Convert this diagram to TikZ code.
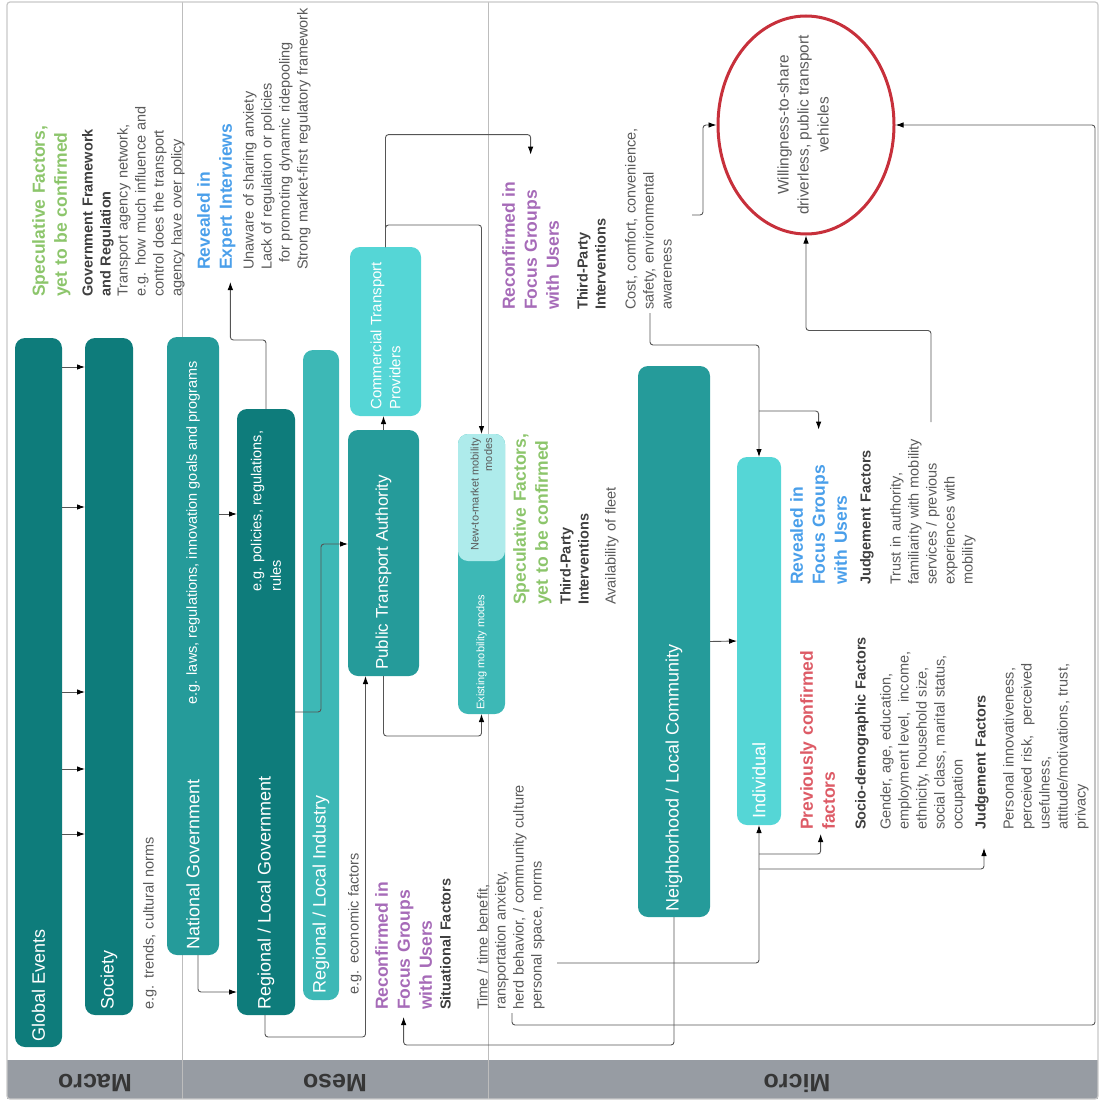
\documentclass[tikz,border=0pt]{standalone}
\usepackage{fontspec}
\setmainfont{Liberation Sans}
\usetikzlibrary{arrows.meta,shapes.geometric}
\definecolor{tdark}{HTML}{0E7C7B}
\definecolor{tmid}{HTML}{259B9A}
\definecolor{tlight}{HTML}{3DB8B6}
\definecolor{tcyan}{HTML}{55D6D6}
\definecolor{tpale}{HTML}{AEEBEB}
\definecolor{specgreen}{HTML}{8CC56B}
\definecolor{revblue}{HTML}{4A9FEA}
\definecolor{reconfpurple}{HTML}{A66BB8}
\definecolor{prevred}{HTML}{DD5B66}
\definecolor{goalred}{HTML}{C7303B}
\definecolor{subgray}{HTML}{404040}
\definecolor{bodygray}{HTML}{5A5A5A}
\definecolor{linegray}{HTML}{555555}
\definecolor{bandgray}{HTML}{979CA3}
\definecolor{bandtext}{HTML}{363636}
\definecolor{sepgray}{HTML}{BDBDBD}
\definecolor{framegray}{HTML}{C8C8C8}

\begin{document}
\begin{tikzpicture}[x=1pt,y=-1pt,
  box/.style={rounded corners=10pt,inner sep=0pt,outer sep=0pt},
  boxlabel/.style={rotate=90,anchor=west,inner sep=0pt,text=white,align=left,font=\fontsize{18}{21}\selectfont},
  txt/.style={rotate=90,anchor=north west,inner sep=0pt,align=left,text width=#1},
  txt/.default=300pt,
  head/.style={txt=#1,font=\bfseries\fontsize{17.5}{22}\selectfont},
  head/.default=300pt,
  sub/.style={txt,text=subgray,font=\bfseries\fontsize{14.5}{18}\selectfont},
  body/.style={txt,text=bodygray,font=\fontsize{14.5}{18}\selectfont},
  goal/.style={ellipse,draw=goalred,line width=3pt,minimum width=176pt,minimum height=218pt,inner sep=0pt},
  goallabel/.style={rotate=90,inner sep=0pt,align=center,text=bodygray,font=\fontsize{15.4}{20}\selectfont},
  bandlabel/.style={rotate=180,text=bandtext,font=\bfseries\fontsize{25}{30}\selectfont},
  conn/.style={draw=linegray,line width=0.9pt,rounded corners=3pt,-{Latex[length=8pt,width=5.5pt,color=black]}}]

  \useasboundingbox (0,0) rectangle (1100,1102);
  \fill[bandgray] (7,1060) rectangle (1098,1099);
  \draw[sepgray,line width=1pt] (182,2) -- (182,1099) (488,2) -- (488,1099);
  \draw[framegray,line width=1.2pt,rounded corners=3pt] (7,2) rectangle (1098,1099);
  \node[bandlabel] (macro) at (95,1083) {Macro};
  \node[bandlabel] (meso) at (335,1083) {Meso};
  \node[bandlabel] (micro) at (797,1083) {Micro};

  \node[box,fill=tdark,minimum width=47pt,minimum height=709pt] (global) at (38.5,692.5) {};
  \node[box,fill=tdark,minimum width=48pt,minimum height=677pt] (society) at (109,676.5) {};
  \node[box,fill=tmid,minimum width=52pt,minimum height=618pt] (natgov) at (193,646) {};
  \node[box,fill=tdark,minimum width=58pt,minimum height=606pt] (reggov) at (266,712) {};
  \node[box,fill=tlight,minimum width=36pt,minimum height=650pt] (regind) at (321,675) {};
  \node[box,fill=tmid,minimum width=71pt,minimum height=246pt] (pta) at (383.5,553) {};
  \node[box,fill=tcyan,minimum width=71pt,minimum height=169pt] (ctp) at (385.5,331.5) {};
  \node[box,fill=tlight,minimum width=47pt,minimum height=280pt] (modes) at (481.5,574) {};
  \node[box,fill=tpale,minimum width=47pt,minimum height=127pt] (newmodes) at (481.5,497.5) {};
  \node[box,fill=tmid,minimum width=72pt,minimum height=551pt] (neigh) at (674,641.5) {};
  \node[box,fill=tcyan,minimum width=44pt,minimum height=368pt] (indiv) at (759,641) {};
  \node[goal] (wts) at (806,125) {};
  \node[goallabel] (wtslbl) at ([xshift=-3pt]wts.center) {Willingness-to-share\\driverless, public transport\\vehicles};

  \node[boxlabel] (globallbl) at ([yshift=5pt]global.south) {Global Events};
  \node[boxlabel] (societylbl) at ([yshift=5pt]society.south) {Society};
  \node[boxlabel] (natgovlbl) at ([yshift=5pt]natgov.south) {National Government};
  \node[boxlabel,font=\fontsize{14.5}{17}\selectfont] (natgovex) at (natgov.center |- 0,705) {e.g. laws, regulations, innovation goals and programs};
  \node[boxlabel] (reggovlbl) at ([yshift=5pt]reggov.south) {Regional / Local Government};
  \node[boxlabel,font=\fontsize{14.5}{19.5}\selectfont] (reggovex) at (reggov.center |- 0,592) {e.g. policies, regulations,\\rules};
  \node[boxlabel] (regindlbl) at ([yshift=6pt]regind.south) {Regional / Local Industry};
  \node[boxlabel,font=\fontsize{17}{20}\selectfont] (ptalbl) at ([yshift=6pt]pta.south) {Public Transport Authority};
  \node[boxlabel,font=\fontsize{15}{19}\selectfont] (ctplbl) at ([yshift=6pt]ctp.south) {Commercial Transport\\Providers};
  \node[boxlabel,font=\fontsize{11}{13}\selectfont] (modeslbl) at ([yshift=4pt]modes.south) {Existing mobility modes};
  \node[boxlabel,anchor=east,align=right,text=bodygray,font=\fontsize{11}{13.5}\selectfont] (newmodeslbl) at ([yshift=-4pt]newmodes.north) {New-to-market mobility\\modes};
  \node[boxlabel] (neighlbl) at ([yshift=5pt]neigh.south) {Neighborhood / Local Community};
  \node[boxlabel] (indivlbl) at ([yshift=6pt]indiv.south) {Individual};

  \node[head,text=specgreen] (spec1) at (32,297) {Speculative Factors,\\yet to be confirmed};
  \node[sub] (govsub) at (82,297) {Government Framework\\and Regulation};
  \node[body] (govbody) at (117,297) {Transport agency network,\\e.g. how much influence and\\control does the transport\\agency have over policy};
  \node[head,text=revblue] (expert) at (197,270) {Revealed in\\Expert Interviews};
  \node[body] (expertbody) at (243,270) {Unaware of sharing anxiety\\Lack of regulation or policies\\\hspace*{7pt}for promoting dynamic ridepooling\\Strong market-first regulatory framework};
  \node[body] (trends) at (143,1010) {e.g. trends, cultural norms};
  \node[body] (econ) at (348,995) {e.g. economic factors};
  \node[head=155pt,text=reconfpurple] (reconf1) at (502,310) {Reconfirmed in\\Focus Groups\\with Users};
  \node[sub] (third1) at (577,310) {Third-Party\\Interventions};
  \node[body] (cost) at (625,310) {Cost, comfort, convenience,\\safety, environmental\\awareness};
  \node[head,text=specgreen] (spec2) at (513,605) {Speculative Factors,\\yet to be confirmed};
  \node[sub] (third2) at (560,605) {Third-Party\\Interventions};
  \node[body] (fleet) at (605,605) {Availability of fleet};
  \node[head,text=reconfpurple] (reconf2) at (375,1010) {Reconfirmed in\\Focus Groups\\with Users};
  \node[sub] (situ) at (440,1010) {Situational Factors};
  \node[body] (situbody) at (477,1010) {Time / time benefit,\\ransportation anxiety,\\herd behavior, / community culture\\personal space, norms};
  \node[head=155pt,text=revblue] (revhead) at (790,585) {Revealed in\\Focus Groups\\with Users};
  \node[sub] (judge1) at (860,585) {Judgement Factors};
  \node[body] (trust) at (890,585) {Trust in authority,\\familiarity with mobility\\services / previous\\experiences with\\mobility};
  \node[head,text=prevred] (prevhead) at (800,830) {Previously confirmed\\factors};
  \node[sub] (socio) at (855,830) {Socio-demographic Factors};
  \node[body] (sociobody) at (880,830) {Gender, age, education,\\employment level,\ \ income,\\ethnicity, household size,\\social class, marital status,\\occupation};
  \node[sub] (judge2) at (975,830) {Judgement Factors};
  \node[body] (persbody) at (1003,830) {Personal innovativeness,\\perceived risk,\ \ perceived\\usefulness,\\attitude/motivations, trust,\\privacy};

  \coordinate (costout) at (650,313);
  \coordinate (costside) at (692,215);
  \coordinate (situout) at (557,963);
  \coordinate (herdout) at (512,1013);
  \coordinate (trustout) at (931,422);

  \foreach \yy in {367,507,692,769,834}
    \draw[conn] (global.east |- 0,\yy) -- (society.west |- 0,\yy);
  \draw[conn] (natgov.east |- 0,514) -- (reggov.west |- 0,514);
  \draw[conn] ([xshift=5pt]natgov.south) |- (reggov.west |- 0,992);
  \draw[conn] (reggov.north) -- ++(0,-69) -| ([xshift=14pt,yshift=-12pt]expert.west);
  \draw[conn] (reggov.east) -- ++(26,0) |- ([yshift=9pt]pta.west);
  \draw[conn] ([xshift=-1pt]reggov.south) -- ++(0,22) -| ([xshift=-18pt]pta.south);
  \draw[conn] (pta.north) -- (pta.north |- ctp.south);
  \draw[conn] (pta.south) -- ++(0,60) -| (modes.south);
  \draw[conn] (ctp.north) |- ([yshift=20pt]reconf1.east) -- (reconf1.east);
  \draw[conn] (ctp.north) -- ++(0,-22) -| (newmodes.north);
  \draw[conn] (neigh.east) -- (indiv.west);
  \draw[conn] (neigh.south) -- ++(0,128) -| ([yshift=-7pt]reconf2.west);
  \draw[conn] (situout) -| (indiv.south);
  \draw[conn] (indiv.south |- 0,854) -| ([xshift=3pt,yshift=-4pt]prevhead.west);
  \draw[conn] (indiv.south |- 0,869) -| ([xshift=2pt,yshift=-18pt]judge2.west);
  \draw[conn] (herdout) |- (1095,1025) |- (wts.east);
  \draw[conn] (trustout) |- ([yshift=-95pt]wts.south) -- (wts.south);
  \draw[conn] (costout) -- ++(0,32) -| (indiv.north);
  \draw[conn] (indiv.north |- 0,411) -| (revhead.east);
  \draw[conn] (costside) -- ++(11,0) |- (wts.west);
\end{tikzpicture}
\end{document}
